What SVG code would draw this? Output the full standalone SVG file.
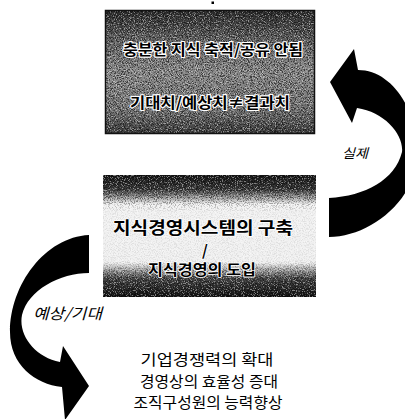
<svg xmlns="http://www.w3.org/2000/svg" width="405" height="419" viewBox="0 0 405 419">
<style>
  .box-text { font-family: "Noto Sans CJK KR", "Noto Sans", sans-serif; fill: #000; stroke: #fff; stroke-width: 2.2; paint-order: stroke; stroke-linejoin: round; font-weight: bold; text-anchor: middle; }
  .mid-text { font-family: "Noto Sans CJK KR", "Noto Sans", sans-serif; fill: #000; stroke: #fff; stroke-width: 1.6; paint-order: stroke; stroke-linejoin: round; font-weight: bold; text-anchor: middle; }
  .plain { font-family: "Noto Sans CJK KR", "Noto Sans", sans-serif; fill: #000; text-anchor: middle; font-size: 14.5px; }
  .label { font-family: "Noto Sans CJK KR", "Noto Sans", sans-serif; fill: #000; font-style: italic; }
  .arrow { fill: #000; stroke: none; }
</style>
<defs>
  <linearGradient id="gTop" x1="0" y1="0" x2="0" y2="1">
    <stop offset="0" stop-color="#2a2a2a"/>
    <stop offset="0.25" stop-color="#666"/>
    <stop offset="0.5" stop-color="#8c8c8c"/>
    <stop offset="0.8" stop-color="#777"/>
    <stop offset="1" stop-color="#3a3a3a"/>
  </linearGradient>
  <linearGradient id="gMid" x1="0" y1="0" x2="0" y2="1">
    <stop offset="0" stop-color="#141414"/>
    <stop offset="0.12" stop-color="#3a3a3a"/>
    <stop offset="0.24" stop-color="#f2f2f2"/>
    <stop offset="0.72" stop-color="#f0f0f0"/>
    <stop offset="0.85" stop-color="#444"/>
    <stop offset="1" stop-color="#101010"/>
  </linearGradient>
  <linearGradient id="gMidSpeck" x1="0" y1="0" x2="0" y2="1">
    <stop offset="0" stop-color="#fff"/>
    <stop offset="0.18" stop-color="#fff"/>
    <stop offset="0.3" stop-color="#222"/>
    <stop offset="0.7" stop-color="#222"/>
    <stop offset="0.82" stop-color="#fff"/>
    <stop offset="1" stop-color="#fff"/>
  </linearGradient>
  <mask id="mMid">
    <rect x="103" y="175" width="213" height="122" fill="url(#gMidSpeck)"/>
  </mask>
  <filter id="blackSpeck" x="0" y="0" width="1" height="1">
    <feTurbulence type="fractalNoise" baseFrequency="0.85" numOctaves="2" seed="7"/>
    <feColorMatrix type="matrix" values="0 0 0 0 0  0 0 0 0 0  0 0 0 0 0  7 0 0 0 -3.4"/>
  </filter>
  <filter id="whiteSpeck" x="0" y="0" width="1" height="1">
    <feTurbulence type="fractalNoise" baseFrequency="0.85" numOctaves="2" seed="21"/>
    <feColorMatrix type="matrix" values="0 0 0 0 1  0 0 0 0 1  0 0 0 0 1  -7 0 0 0 3.2"/>
  </filter>
</defs>

<rect x="211.5" y="1.5" width="2.5" height="2.5" fill="#000"/>

<g id="node-top">
  <rect x="105" y="10" width="210" height="124" fill="url(#gTop)"/>
  <rect x="105" y="10" width="210" height="124" fill="#000" filter="url(#blackSpeck)" opacity="0.55"/>
  <rect x="105" y="10" width="210" height="124" fill="#fff" filter="url(#whiteSpeck)" opacity="0.45"/>
  <rect x="105.5" y="10.5" width="209" height="123" fill="none" stroke="#111" stroke-width="1.5"/>
  <text class="box-text" x="213" y="55" font-size="15" textLength="180" lengthAdjust="spacingAndGlyphs">충분한 지식 축적/공유 안됨</text>
  <text class="box-text" x="210" y="108" font-size="15" textLength="160" lengthAdjust="spacingAndGlyphs">기대치/예상치≠결과치</text>
</g>

<g id="node-middle">
  <rect x="103" y="175" width="213" height="122" fill="url(#gMid)"/>
  <g mask="url(#mMid)">
    <rect x="103" y="175" width="213" height="122" fill="#000" filter="url(#blackSpeck)" opacity="0.5"/>
  </g>
  <rect x="103" y="175" width="213" height="122" fill="#fff" filter="url(#whiteSpeck)" opacity="0.45"/>
  <text class="mid-text" x="203" y="234" font-size="17" textLength="180" lengthAdjust="spacingAndGlyphs">지식경영시스템의 구축</text>
  <text class="mid-text" x="205" y="256" font-size="15">/</text>
  <text class="mid-text" x="202" y="275" font-size="15" textLength="108" lengthAdjust="spacingAndGlyphs">지식경영의 도입</text>
</g>

<g id="node-bottom">
  <text class="plain" x="207" y="365" textLength="133" lengthAdjust="spacingAndGlyphs">기업경쟁력의 확대</text>
  <text class="plain" x="209" y="387" textLength="138" lengthAdjust="spacingAndGlyphs">경영상의 효율성 증대</text>
  <text class="plain" x="208" y="408" textLength="149" lengthAdjust="spacingAndGlyphs">조직구성원의 능력향상</text>
</g>

<g id="connectors">
  <path class="arrow" d="M 329,198 C 365,196 395,180 402,152 C 404,135 385,112 357,108 L 352,123 L 330,82 L 354,49 L 358,70 C 390,70 415,105 418,150 C 418,200 370,237 329,237 Z"/>
  <text class="label" x="342" y="158" font-size="13" textLength="26" lengthAdjust="spacingAndGlyphs">실제</text>
  <path class="arrow" d="M 89,235 L 89,273 C 60,273 28,290 22,315 C 18,335 35,357 60,362 L 63,346 L 89,386 L 65,420 L 62,387 C 35,384 10,365 10,332 C 10,285 45,237 89,235 Z"/>
  <text class="label" x="33" y="319" font-size="15" textLength="69" lengthAdjust="spacingAndGlyphs">예상/기대</text>
</g>
</svg>
